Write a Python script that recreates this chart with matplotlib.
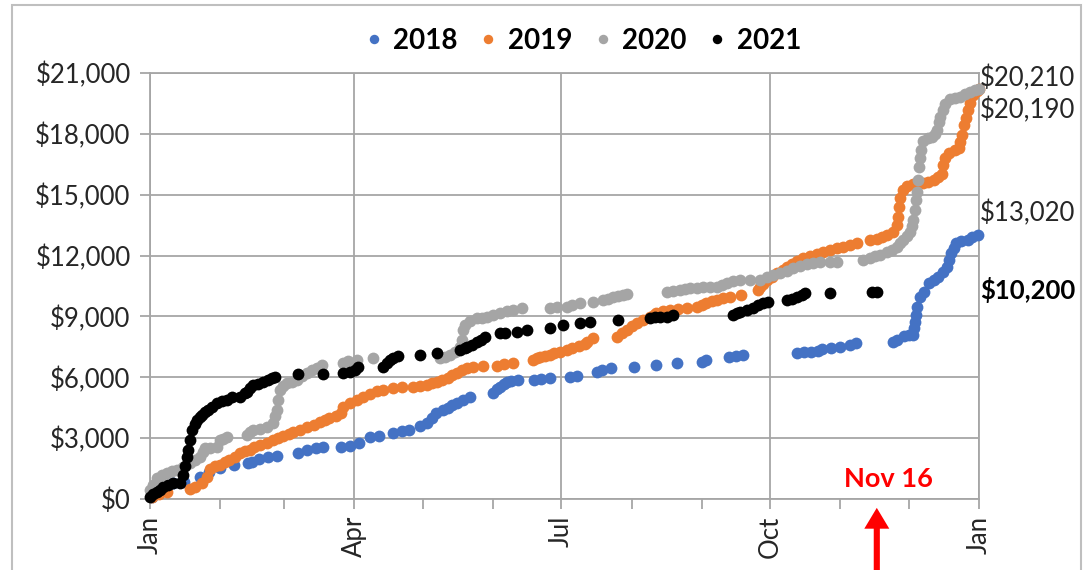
import matplotlib
matplotlib.use('Agg')
import matplotlib.pyplot as plt
from matplotlib.patches import Rectangle

plt.rcParams['font.family'] = ['Lato', 'DejaVu Sans']

# (day of year, cumulative dollars)
pts_2018 = [(1, 100), (4, 300), (7, 590), (10, 790), (15, 840), (22, 1085), (26, 1330),
            (31, 1530), (37, 1680), (43, 1775), (45, 1825), (48, 1970), (52, 2070), (56, 2120),
            (65, 2270), (69, 2415), (73, 2515), (76, 2565), (84, 2565), (88, 2610), (92, 2760),
            (97, 3055), (101, 3105), (107, 3255), (111, 3350), (114, 3400), (119, 3600),
            (122, 3750), (124, 3990), (126, 4240), (129, 4390), (131, 4485), (133, 4635),
            (135, 4735), (138, 4880), (141, 5030), (151, 5225), (153, 5420), (154, 5520),
            (156, 5670), (157, 5770), (159, 5820), (162, 5865), (169, 5865), (172, 5915),
            (176, 5965), (185, 6015), (188, 6065), (197, 6260), (199, 6360), (203, 6460),
            (213, 6510), (223, 6605), (232, 6705), (243, 6755), (245, 6850), (255, 7000),
            (258, 7050), (261, 7100), (285, 7200), (288, 7250), (291, 7250), (294, 7295),
            (296, 7395), (300, 7445), (304, 7495), (308, 7590), (311, 7690), (327, 7740),
            (329, 7840), (332, 8035), (334, 8085), (336, 8085), (336.3, 8430), (336.7, 8725),
            (337.2, 9070), (337.8, 9465), (339, 9960), (341, 10200), (343, 10650), (345, 10800),
            (347, 10945), (349, 11190), (351, 11440), (352, 11780), (352.5, 12130),
            (354, 12375), (355, 12620), (357, 12720), (360, 12770), (362, 12915), (364.5, 13020)]

pts_2019 = [(1, 100), (4, 250), (7.5, 345), (17.5, 495), (20, 590), (23, 790), (25, 1085),
            (26.5, 1480), (28.5, 1625), (31, 1675), (33, 1825), (35, 1925), (37.5, 2070),
            (39.5, 2270), (42, 2365), (44, 2415), (46, 2565), (48.5, 2660), (51.5, 2760),
            (54, 2910), (56.5, 3005), (58.5, 3105), (61, 3205), (63, 3305), (66, 3400),
            (69, 3550), (72, 3650), (75, 3795), (77, 3895), (79, 3995), (82, 4090), (84, 4240),
            (85, 4535), (88, 4735), (91, 4880), (94, 5030), (97, 5175), (100, 5325),
            (102.5, 5375), (107, 5470), (111, 5520), (116, 5520), (119, 5570), (122, 5620),
            (124, 5720), (126.5, 5770), (128.5, 5865), (131, 5965), (133, 6115), (135, 6210),
            (137.5, 6360), (139.5, 6460), (142, 6510), (146.5, 6555), (153, 6555), (156, 6655),
            (160, 6705), (168.5, 6855), (170.5, 6950), (171.5, 7000), (174, 7050), (176, 7100),
            (178, 7200), (180.5, 7245), (183.5, 7345), (186, 7445), (189, 7545), (191.5, 7640),
            (192.5, 7740), (195, 7935), (205.5, 7985), (208, 8185), (210, 8330), (212, 8530),
            (214.5, 8675), (217, 8825), (220, 8975), (222, 9070), (223, 9170), (226, 9270),
            (229, 9320), (232.5, 9365), (236.5, 9415), (241, 9465), (243, 9565), (245, 9665),
            (247.5, 9760), (249.5, 9810), (252.5, 9910), (255.5, 9960), (260, 10055),
            (267.5, 10305), (268.5, 10450), (270, 10600), (271.5, 10795), (274, 10945),
            (276, 11140), (278.5, 11290), (280.5, 11440), (282.5, 11585), (285, 11735),
            (287.5, 11880), (290.5, 11980), (293.5, 12080), (296.5, 12175), (299.5, 12275),
            (302.5, 12375), (305, 12425), (308, 12520), (311.5, 12620), (317, 12770),
            (320, 12820), (322.5, 12915), (324.5, 13015), (327, 13165), (329, 13510),
            (329.3, 13905), (329.7, 14395), (330.2, 14840), (331.5, 15235), (333.5, 15430),
            (336, 15530), (340.5, 15580), (342.5, 15630), (345, 15725), (347, 15875),
            (348.5, 16025), (349.2, 16465), (350, 16810), (352, 17060), (354.5, 17205),
            (356, 17305), (356.7, 17600), (357.5, 17945), (358.3, 18440), (359.2, 18785),
            (360, 19180), (361, 19525), (362.5, 19920), (364, 20100), (365, 20190)]

pts_2020 = [(0, 440), (1.3, 690), (3, 1035), (5.3, 1185), (7.5, 1280), (9.7, 1380), (12, 1430),
            (14.5, 1580), (17.5, 1775), (20, 1925), (22, 2070), (23.3, 2315), (24.2, 2515),
            (26.4, 2515), (29.5, 2565), (30.8, 2910), (32, 2960), (34, 3055), (42.7, 3155),
            (44, 3305), (45.4, 3400), (48.4, 3450), (51.5, 3550), (54.2, 3745), (55, 4090),
            (55.9, 4390), (56.4, 4880), (57.2, 5375), (58.6, 5570), (60.3, 5720), (62.5, 5770),
            (64.7, 5865), (67, 6065), (69, 6210), (71.3, 6360), (73.5, 6460), (75.7, 6605),
            (85, 6705), (87.2, 6805), (91, 6855), (98.2, 6950), (127.7, 6950), (130, 7000),
            (132, 7100), (134.3, 7245), (136.5, 7495), (137.4, 7840), (137.8, 8330),
            (138.7, 8580), (141, 8775), (144, 8925), (146, 8925), (148.4, 8975), (151, 9070),
            (154, 9170), (157.2, 9270), (159.8, 9320), (164, 9415), (176, 9415), (179, 9465),
            (183.6, 9465), (186, 9565), (189.3, 9665), (195, 9710), (199.5, 9810),
            (201.7, 9860), (204, 9960), (206, 10010), (208.3, 10055), (210, 10105),
            (227.6, 10205), (230.3, 10255), (233.4, 10305), (235.6, 10355), (237.8, 10400),
            (240.8, 10400), (243.5, 10450), (246.6, 10450), (249.7, 10450), (252, 10550),
            (254, 10650), (256.7, 10745), (259.8, 10795), (264.2, 10795), (268.6, 10795),
            (271.7, 10945), (274.3, 11045), (277.4, 11140), (280.5, 11240), (283, 11390),
            (286.2, 11485), (289.3, 11585), (292, 11635), (295, 11685), (299.4, 11685),
            (302.5, 11685), (314, 11785), (317, 11880), (319.2, 11980), (321.4, 12030),
            (324.5, 12175), (326.7, 12275), (329, 12425), (330.2, 12620), (331.5, 12770),
            (333.3, 12965), (334.6, 13165), (335.5, 13460), (336, 13755), (336.8, 14250),
            (337.3, 14740), (337.7, 15135), (338.2, 15725), (338.5, 16370), (339, 16810),
            (339.5, 17205), (340.4, 17650), (342.6, 17795), (344.3, 17845), (345.6, 17995),
            (346.5, 18190), (347.4, 18585), (347.8, 18835), (349.2, 19180), (350, 19475),
            (352.2, 19720), (354.4, 19770), (356.6, 19820), (358.8, 19965), (361, 20065),
            (363.3, 20150), (365, 20210)]

pts_2021 = [(0, 100), (1.3, 245), (3, 345), (4.4, 445), (5.7, 590), (8, 690), (10, 790),
            (13.2, 790), (14.5, 1185), (15.4, 1625), (16.3, 2070), (16.7, 2415), (17.6, 2910),
            (18.5, 3400), (19.8, 3700), (20.7, 3895), (22, 4045), (23, 4140), (24.2, 4290),
            (25.5, 4390), (27.3, 4535), (29.5, 4735), (31.7, 4830), (34, 4880), (36, 5030),
            (39.6, 5030), (41.8, 5225), (42.7, 5275), (44, 5470), (45.4, 5620), (47.6, 5670),
            (49.8, 5770), (52, 5865), (53.7, 5965), (55, 6015), (65.2, 6165), (76.2, 6165),
            (85, 6210), (88, 6260), (90.3, 6360), (91.6, 6510), (102.6, 6510), (104.4, 6705),
            (105.7, 6855), (107, 6950), (109.2, 7050), (119, 7100), (126.4, 7200),
            (136.5, 7345), (138.7, 7445), (139.6, 7495), (141.8, 7590), (144, 7740),
            (145.7, 7840), (147.5, 7985), (154, 8185), (156.3, 8185), (161.6, 8235),
            (166, 8330), (176, 8430), (181.8, 8580), (189.3, 8675), (193.7, 8725), (206, 8825),
            (220.2, 8925), (222.4, 8975), (224.6, 8975), (227.6, 8975), (230.3, 9070),
            (256.7, 9070), (258.5, 9170), (259.8, 9220), (263, 9320), (265.5, 9415),
            (267.7, 9565), (270, 9665), (272, 9710), (280.5, 9810), (282.7, 9860), (285, 9960),
            (287, 10055), (288.4, 10160), (299.4, 10160), (318, 10200), (320, 10200)]

years = ['2018', '2019', '2020', '2021']
colors = ['#4472C4', '#ED7D31', '#A5A5A5', '#000000']
month_starts = [0, 31, 59, 90, 120, 151, 181, 212, 243, 273, 304, 334, 365]
major_labels = ['Jan', 'Apr', 'Jul', 'Oct', 'Jan']
grid_c = '#A6A6A6'

fig = plt.figure(figsize=(10.85, 5.70), dpi=100)
ax = fig.add_axes([150 / 1085, 1 - 499 / 570, 829 / 1085, 426 / 570])

for pts, yr, c in zip([pts_2018, pts_2019, pts_2020, pts_2021], years, colors):
    d, v = zip(*pts)
    ax.plot(d, v, 'o', color=c, markersize=8.5, markeredgewidth=0, label=yr,
            clip_on=False, zorder=3)

ax.set_xlim(0, 365)
ax.set_ylim(0, 21000)
ax.set_yticks(range(0, 21001, 3000))
ax.set_yticklabels(['${:,}'.format(v) for v in range(0, 21001, 3000)])
ax.set_xticks(month_starts[::3])
ax.set_xticklabels(major_labels, rotation=90)
ax.set_xticks(month_starts, minor=True)
ax.grid(True, which='major', color=grid_c, linewidth=1.3, zorder=0)
ax.set_axisbelow(True)
for s in ax.spines.values():
    s.set_color(grid_c)
    s.set_linewidth(1.3)
ax.tick_params(axis='both', which='both', direction='out', length=7, width=1.3,
               color=grid_c, labelsize=18.5, labelcolor='#262626')
ax.tick_params(axis='y', pad=7)
ax.tick_params(axis='x', pad=5)

# end-of-year labels on the right
end_labels = [(pts_2020[-1][1], 20750, 'normal'), (pts_2019[-1][1], 19150, 'normal'),
              (pts_2018[-1][1], 14100, 'normal'), (pts_2021[-1][1], 10300, 'bold')]
for val, ypos, w in end_labels:
    ax.text(365.5, ypos, '${:,}'.format(val), fontsize=18.5, fontweight=w,
            color='#262626' if w == 'normal' else 'black', va='center', ha='left',
            clip_on=False)

ax.text(325, 1000, 'Nov 16', color='#FF0000', fontsize=19.5, fontweight='bold',
        ha='center', va='center')
ax.annotate('', xy=(pts_2021[-1][0], -300), xytext=(pts_2021[-1][0], -3700),
            arrowprops=dict(arrowstyle='simple,head_length=0.75,head_width=0.9,tail_width=0.22',
                            mutation_scale=20, color='#FF0000', lw=0),
            annotation_clip=False)

leg = fig.legend(loc='upper center', bbox_to_anchor=(0.535, 0.995), ncol=4, frameon=False,
                 prop={'weight': 'bold', 'size': 20}, handletextpad=0.2,
                 columnspacing=0.6, markerscale=0.8, handlelength=1.0)

fig.patches.append(Rectangle((12 / 1085, -0.05), 1069 / 1085, 1.05 - 5 / 570,
                             transform=fig.transFigure, fill=False,
                             edgecolor='#BFBFBF', linewidth=1.5))

fig.savefig('out.png', dpi=100)
